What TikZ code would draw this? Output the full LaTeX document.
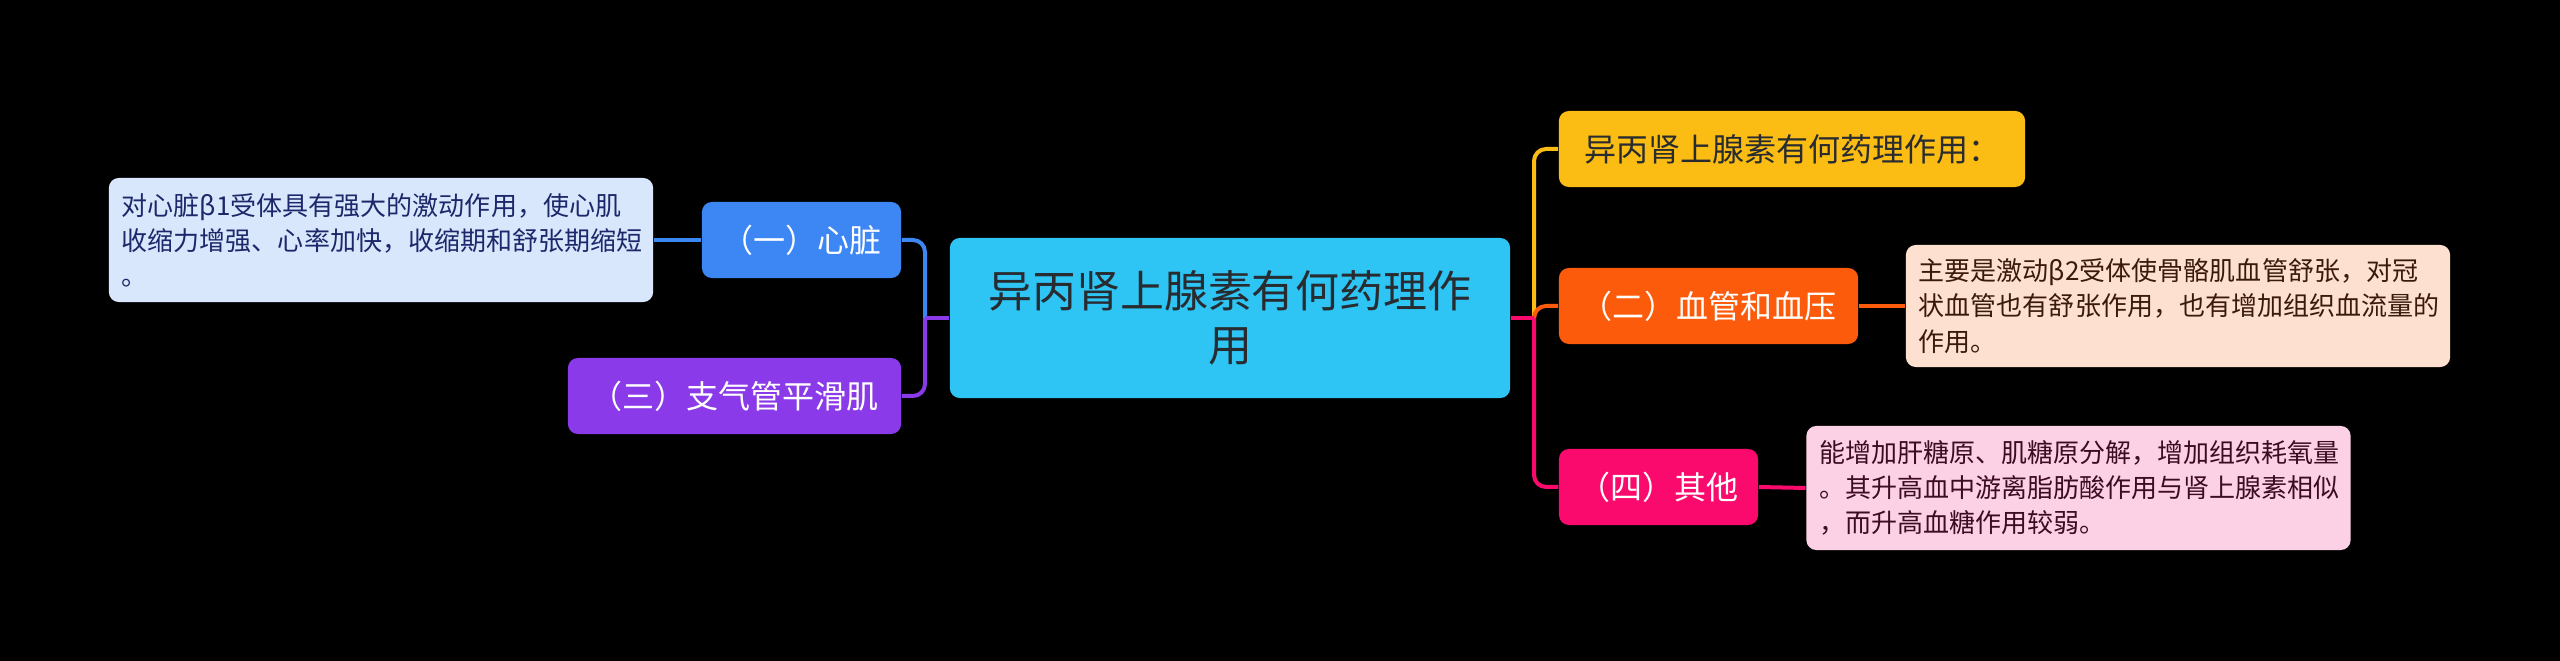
\documentclass[tikz,border=0pt]{standalone}
\usepackage{fontspec}
\setmainfont{Noto Sans CJK SC}
\usepackage{tikz}
\usetikzlibrary{positioning}
\definecolor{bgc}{RGB}{0,0,0}
\definecolor{ctrc}{RGB}{46,196,243}
\definecolor{ctrtxt}{RGB}{40,44,48}
\definecolor{yelc}{RGB}{251,188,19}
\definecolor{orac}{RGB}{251,91,11}
\definecolor{pnkc}{RGB}{249,10,108}
\definecolor{bluc}{RGB}{60,135,244}
\definecolor{purc}{RGB}{138,58,232}
\definecolor{blud}{RGB}{217,231,253}
\definecolor{orad}{RGB}{254,224,208}
\definecolor{pnkd}{RGB}{253,209,229}
\definecolor{blut}{RGB}{28,40,105}
\definecolor{orat}{RGB}{58,26,10}
\definecolor{pnkt}{RGB}{60,12,34}
\tikzset{
  ctrnode/.style={rectangle, rounded corners=0.1cm, fill=ctrc, text=ctrtxt,
    font=\fontsize{12.5}{15.4}\selectfont, align=center,
    minimum width=5.6cm, minimum height=1.6cm, inner sep=0pt},
  topic/.style={rectangle, rounded corners=0.1cm, fill=#1, text=white,
    font=\fontsize{9.1}{11}\selectfont, minimum height=0.76cm, inner sep=0pt},
  desc/.style={rectangle, rounded corners=0.1cm, fill=#1, align=left,
    font=\fontsize{7.4}{10}\selectfont, text width=5.18cm,
    inner xsep=0.13cm, inner ysep=0pt},
  conn/.style={draw=#1, line width=0.04cm},
  trunk/.style={conn=#1, rounded corners=0.12cm},
}
\begin{document}
\begin{tikzpicture}[x=0.01cm, y=-0.01cm]
  \fill[bgc] (0,0) rectangle (2560,661);
  \useasboundingbox (0,0) rectangle (2560,661);
  % centre
  \node[ctrnode] (ctr) at (1230,318) {异丙肾上腺素有何药理作\\用};
  \coordinate (rj) at (1534,318);
  \coordinate (lj) at (925,318);
  % right branches
  \node[topic=yelc, text=ctrtxt, minimum width=4.66cm] (yel) at (1792,149) {异丙肾上腺素有何药理作用：};
  \node[topic=orac, minimum width=2.99cm] (ora) at (1708.5,306) {（二）血管和血压};
  \node[topic=pnkc, minimum width=1.99cm] (pnk) at (1658.5,487) {（四）其他};
  \node[desc=orad, text=orat, minimum height=1.22cm] (orad) at (2178,306)
    {主要是激动β2受体使骨骼肌血管舒张，对冠\\状血管也有舒张作用，也有增加组织血流量的\\作用。};
  \node[desc=pnkd, text=pnkt, minimum height=1.24cm] (pnkd) at (2078.5,488)
    {能增加肝糖原、肌糖原分解，增加组织耗氧量\\。其升高血中游离脂肪酸作用与肾上腺素相似\\，而升高血糖作用较弱。};
  % left branches
  \node[topic=bluc, minimum width=1.99cm] (blu) at (801.5,240) {（一）心脏};
  \node[topic=purc, minimum width=3.33cm] (pur) at (734.5,396) {（三）支气管平滑肌};
  \node[desc=blud, text=blut, minimum height=1.24cm] (blud) at (381,240)
    {对心脏β1受体具有强大的激动作用，使心肌\\收缩力增强、心率加快，收缩期和舒张期缩短\\。};
  % connectors
  \draw[trunk=yelc] (rj) |- (yel.west);
  \draw[trunk=orac] (rj) |- (ora.west);
  \draw[trunk=pnkc] (rj) |- (pnk.west);
  \draw[conn=pnkc] (ctr.east) -- (rj);
  \draw[trunk=bluc] (lj) |- (blu.east);
  \draw[trunk=purc] (lj) |- (pur.east);
  \draw[conn=purc] (ctr.west) -- (lj);
  \draw[conn=orac] (ora.east) -- (orad.west);
  \draw[conn=pnkc] (pnk.east) -- (pnkd.west);
  \draw[conn=bluc] (blu.west) -- (blud.east);
\end{tikzpicture}
\end{document}
